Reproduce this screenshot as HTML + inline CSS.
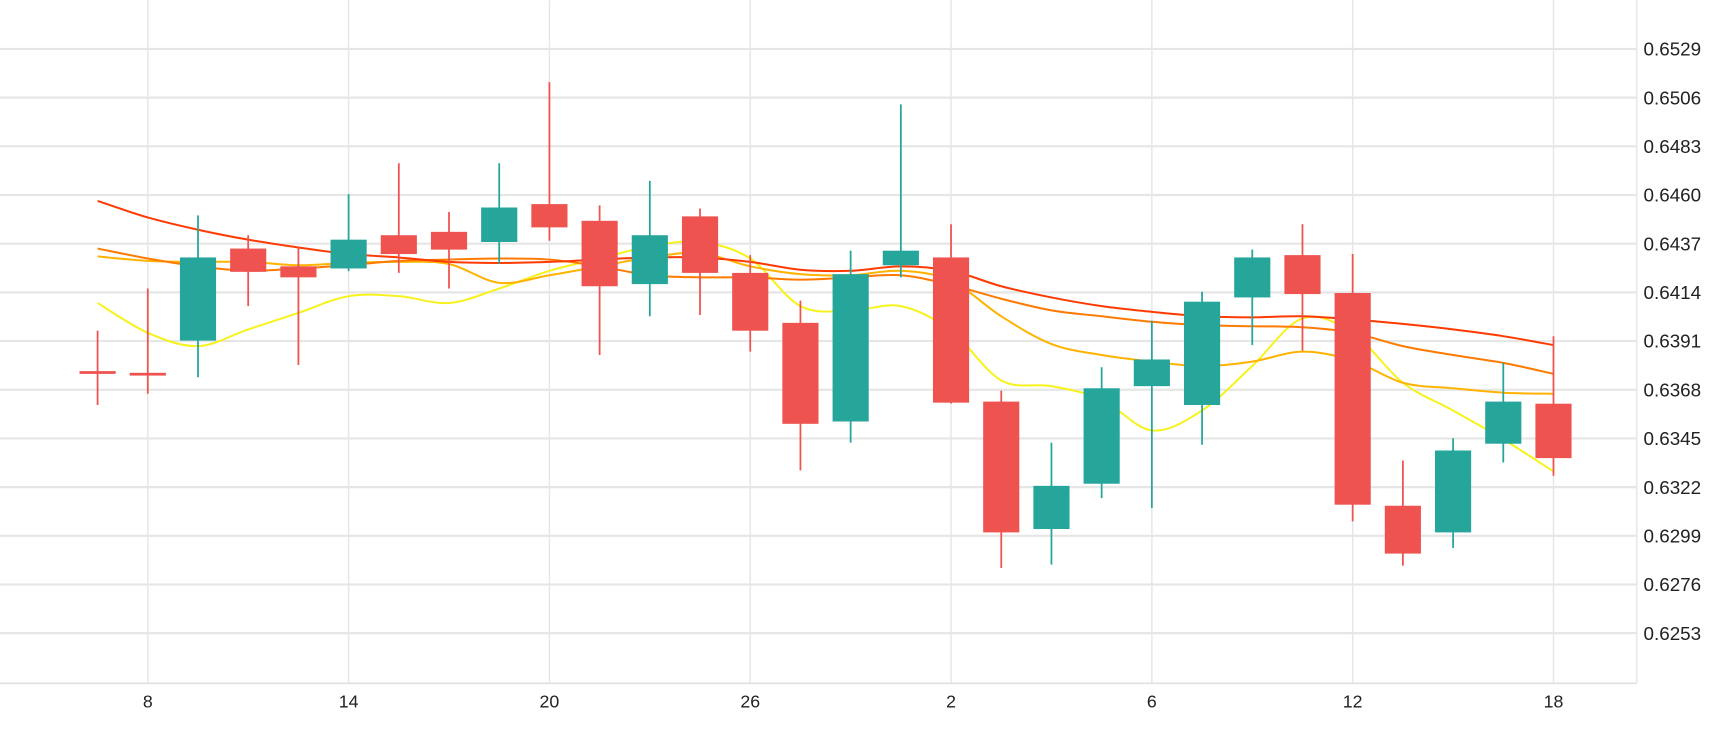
<!DOCTYPE html>
<html><head><meta charset="utf-8"><style>
html,body{margin:0;padding:0;background:#fff;}
svg{display:block;font-family:"Liberation Sans",sans-serif;}
</style></head><body>
<svg id="chart" width="1730" height="730" viewBox="0 0 1560 658" xmlns="http://www.w3.org/2000/svg">
<g id="grid"></g>
<g id="lines"></g>
<g id="candles"></g>
<g id="axes"></g>
</svg>
<script>
const categories=[7,8,9,11,12,14,15,16,18,20,21,22,25,26,27,28,29,2,3,4,5,6,9,10,11,12,15,16,17,18];
const openV=[6376.8,6376.0,6391.2,6434.7,6426.3,6425.3,6441.0,6442.6,6437.8,6455.7,6447.8,6417.9,6449.9,6423.2,6399.6,6353.0,6426.8,6430.5,6362.4,6302.2,6323.6,6369.7,6360.8,6411.6,6431.6,6413.7,6313.2,6300.6,6342.5,6361.4];
const highV=[6395.9,6415.8,6450.4,6441.0,6435.7,6460.4,6475.0,6452.0,6475.0,6513.3,6455.1,6466.7,6453.6,6431.6,6410.1,6433.7,6502.8,6446.2,6367.6,6343.0,6378.6,6400.6,6414.3,6434.2,6446.2,6432.1,6334.6,6345.1,6380.7,6393.3];
const lowV=[6360.8,6366.1,6373.9,6407.5,6379.7,6424.0,6423.2,6415.8,6427.4,6438.4,6384.4,6402.7,6403.3,6386.0,6329.9,6343.0,6421.1,6361.5,6283.8,6285.4,6316.8,6312.1,6342.0,6389.1,6386.5,6305.8,6284.9,6293.2,6333.6,6327.3];
const closeV=[6376.2,6375.0,6430.5,6423.7,6421.1,6438.9,6432.1,6434.2,6454.1,6444.7,6416.9,6441.0,6423.2,6395.9,6351.9,6422.6,6433.7,6361.9,6300.6,6322.6,6368.7,6382.3,6409.6,6430.5,6413.2,6313.7,6290.6,6339.3,6362.4,6335.7];
const maRed=[6457.2,6449.4,6443.6,6438.9,6435.2,6432.1,6430.5,6428.4,6427.9,6428.4,6429.5,6430.5,6430.5,6428.4,6424.7,6424.2,6426.3,6424.2,6416.9,6411.6,6407.5,6404.8,6402.7,6402.2,6402.7,6401.2,6399.1,6396.5,6393.3,6389.1];
const maOrange=[6434.7,6430.0,6426.3,6424.2,6425.3,6426.8,6428.9,6429.5,6430.0,6429.5,6426.3,6422.1,6421.1,6421.1,6420.0,6421.1,6422.1,6417.5,6411.0,6405.5,6402.7,6400.1,6398.5,6398.0,6397.5,6394.9,6388.6,6384.4,6380.7,6375.5];
const maAmber=[6431.0,6428.9,6428.4,6428.4,6426.8,6427.9,6428.4,6427.4,6418.5,6422.1,6426.3,6430.5,6432.6,6426.3,6422.6,6422.1,6424.2,6419.5,6402.7,6389.6,6384.4,6381.3,6379.2,6381.3,6386.0,6381.8,6371.3,6368.7,6366.6,6366.1];
const maYellow=[6409.0,6394.9,6388.6,6396.5,6404.3,6412.2,6412.2,6409.0,6415.8,6424.2,6430.0,6435.7,6437.8,6430.0,6407.5,6405.4,6407.5,6395.9,6372.4,6369.7,6363.4,6348.8,6358.2,6379.2,6401.7,6394.9,6371.3,6358.2,6344.6,6329.4];
const yTicks=["0.6529","0.6506","0.6483","0.6460","0.6437","0.6414","0.6391","0.6368","0.6345","0.6322","0.6299","0.6276","0.6253"];
const xTickIdx=[1,5,9,13,17,21,25,29];
const xTickLabels=["8","14","20","26","2","6","12","18"];

const NS="http://www.w3.org/2000/svg";
const X=i=>88+i*45.27;
const Y=p=>44+(6529-p)/0.5239;
function mk(tag,attrs,parent){const e=document.createElementNS(NS,tag);for(const k in attrs)e.setAttribute(k,attrs[k]);parent.appendChild(e);return e;}
const grid=document.getElementById('grid'),axes=document.getElementById('axes'),lines=document.getElementById('lines'),candles=document.getElementById('candles');
yTicks.forEach(t=>{const y=Y(parseFloat(t)*10000);
 const l=mk('line',{x1:0,x2:1476,y1:y,y2:y,stroke:'#e6e6e6','stroke-width':2},grid);
 
 
 const tx=mk('text',{x:1482,y:y+6,'font-size':17,fill:'#222'},axes);tx.textContent=t;
 
 
});
xTickIdx.forEach((i,k)=>{const x=X(i);
 const l=mk('line',{x1:x,x2:x,y1:0,y2:616,stroke:'#e6e6e6','stroke-width':1.3},grid);
 
 
 const tx=mk('text',{x:x,y:638,'font-size':16,fill:'#222','text-anchor':'middle'},axes);tx.textContent=xTickLabels[k];
 
 
});
const ax=mk('line',{x1:0,x2:1476,y1:616,y2:616,stroke:'#e0e0e0','stroke-width':1.5},axes);


const ay=mk('line',{x1:1476,x2:1476,y1:0,y2:616,stroke:'#e6e6e6','stroke-width':1.3},axes);


function smooth(vals){const p=vals.map((v,i)=>[X(i),Y(v)]);let d='M'+p[0][0]+','+p[0][1];
 for(let i=0;i<p.length-1;i++){const p0=p[Math.max(0,i-1)],p1=p[i],p2=p[i+1],p3=p[Math.min(p.length-1,i+2)];
 const c1=[p1[0]+(p2[0]-p0[0])/6,p1[1]+(p2[1]-p0[1])/6],c2=[p2[0]-(p3[0]-p1[0])/6,p2[1]-(p3[1]-p1[1])/6];
 d+=' C'+c1[0]+','+c1[1]+' '+c2[0]+','+c2[1]+' '+p2[0]+','+p2[1];}return d;}
[[maYellow,'#f7f21a','ma-yellow'],[maAmber,'#ffb300','ma-amber'],[maOrange,'#ff7a00','ma-orange'],[maRed,'#ff3a00','ma-red']].forEach(([v,c,n])=>{
 const p=mk('path',{d:smooth(v),fill:'none',stroke:c,'stroke-width':1.8},lines);
 
 
});
categories.forEach((c,i)=>{const up=closeV[i]>=openV[i],col=up?'#26a69a':'#ef5350',x=X(i);
 const g=mk('g',{},candles);
 
 
 mk('line',{x1:x,x2:x,y1:Y(highV[i]),y2:Y(lowV[i]),stroke:col,'stroke-width':1.6},g);
 const top=Y(Math.max(openV[i],closeV[i])),bot=Y(Math.min(openV[i],closeV[i]));
 mk('rect',{x:x-16.3,y:top,width:32.6,height:Math.max(2.5,bot-top),fill:col},g);
});
</script>
</body></html>
